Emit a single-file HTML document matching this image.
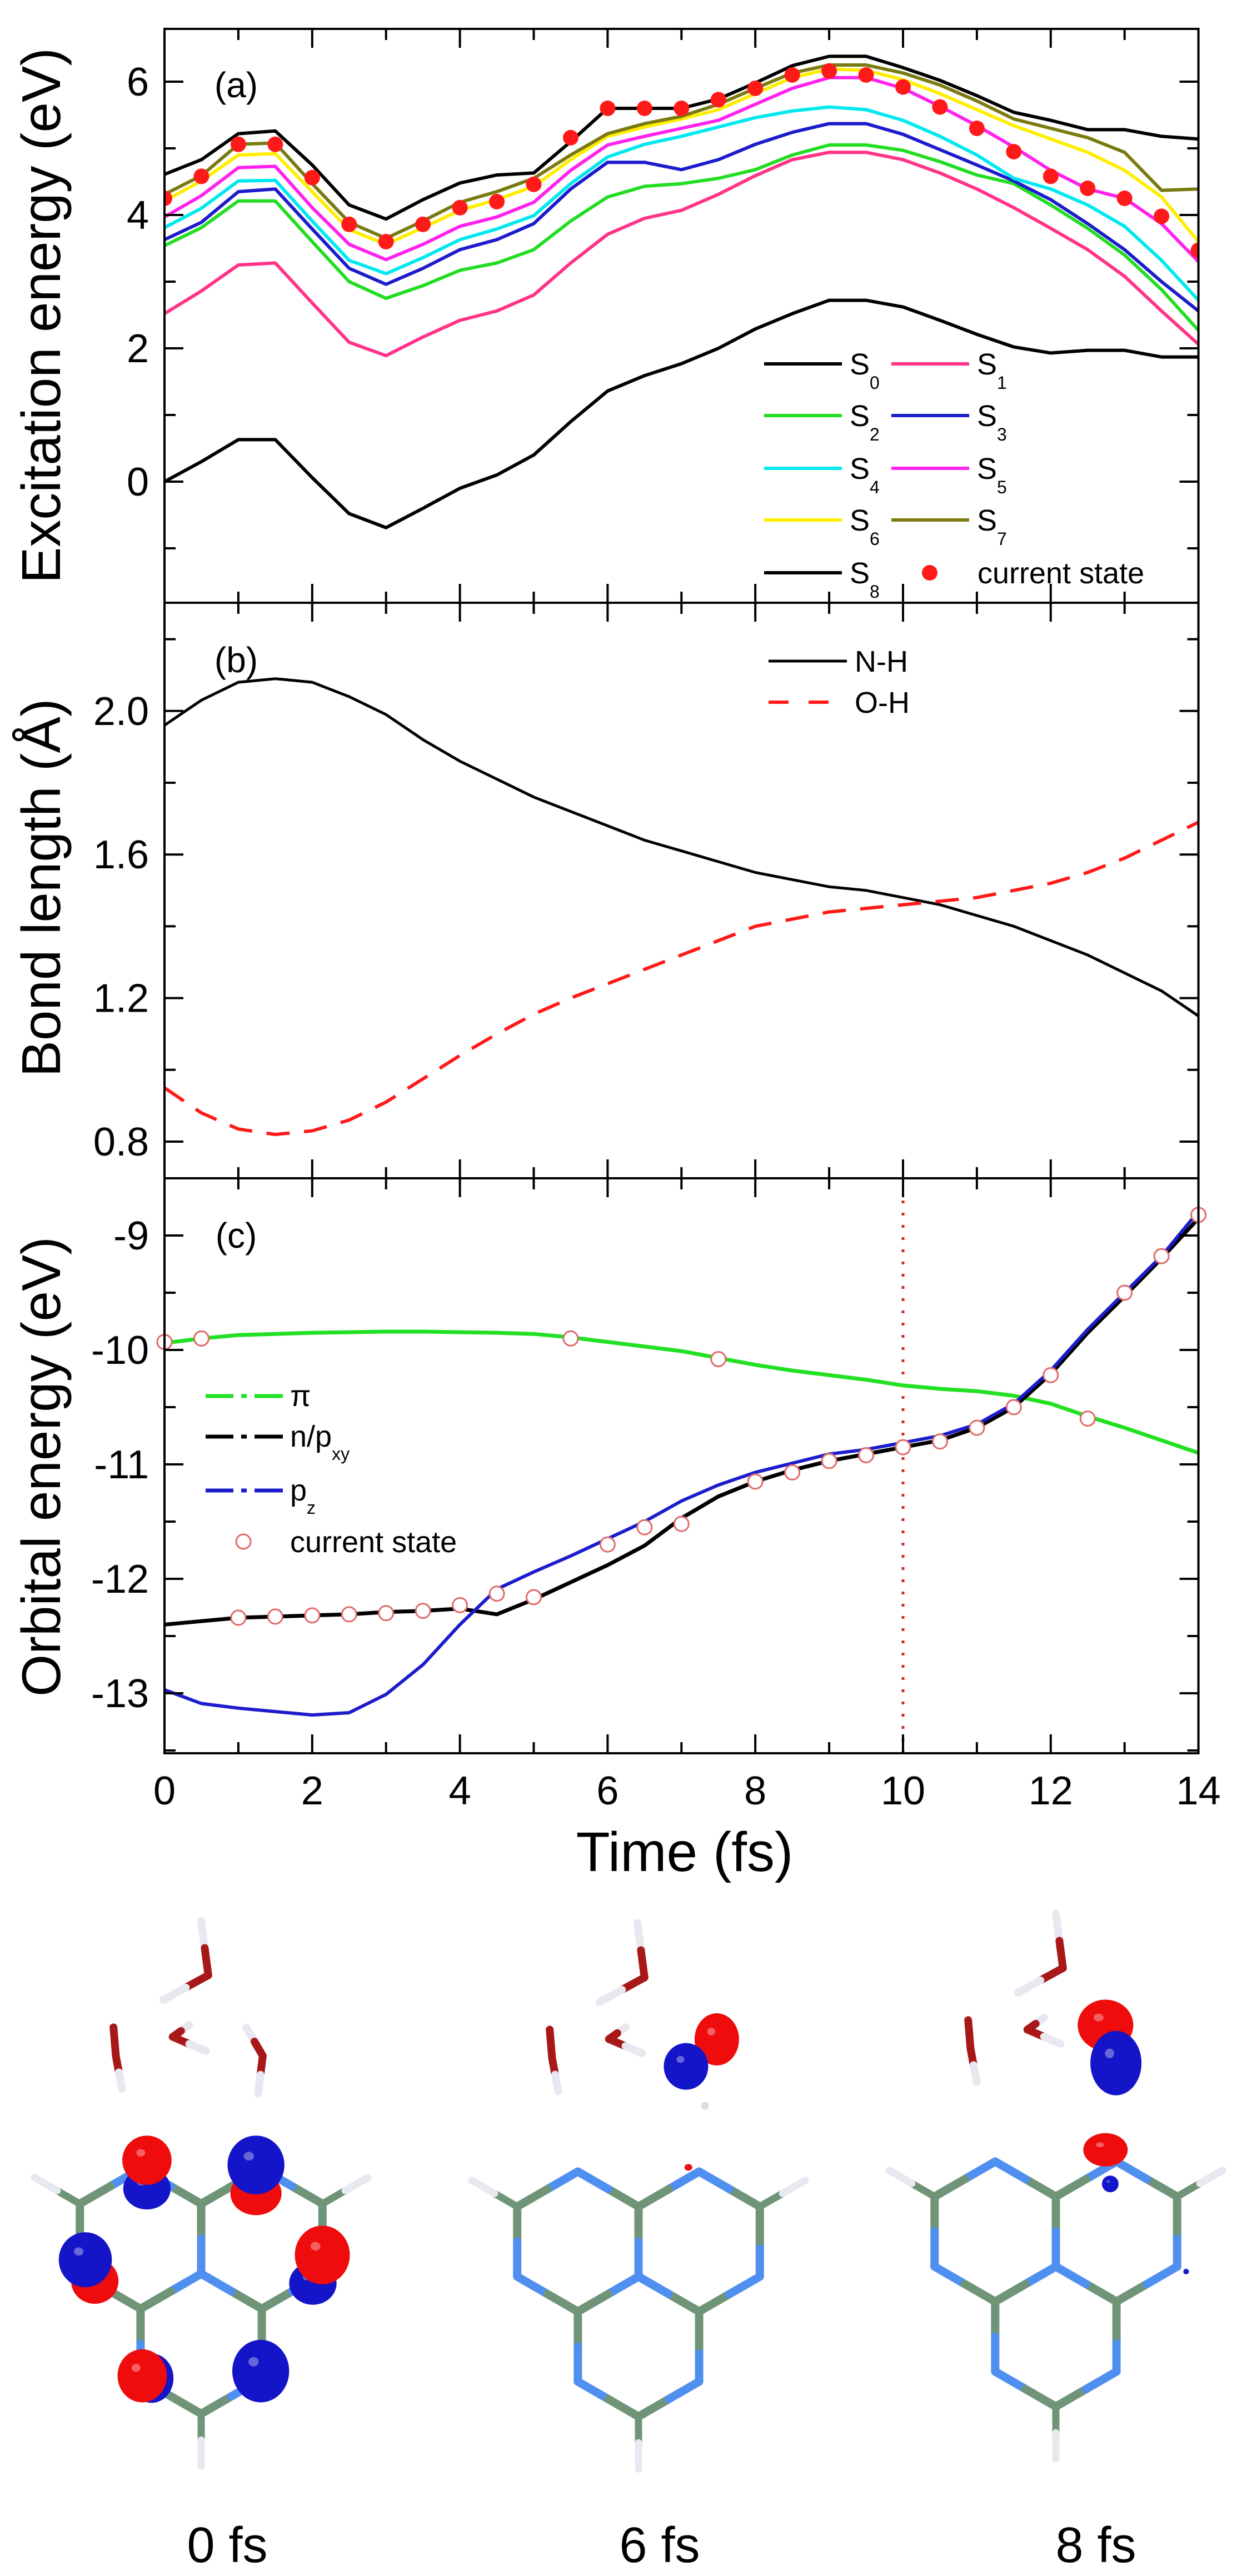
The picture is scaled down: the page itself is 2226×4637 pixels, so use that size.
<!DOCTYPE html>
<html><head><meta charset="utf-8"><style>
html,body{margin:0;padding:0;background:#fff;}
svg{display:block;font-family:"Liberation Sans",Arial,sans-serif;}
</style></head><body>
<svg id="fig" xmlns="http://www.w3.org/2000/svg" width="2226" height="4637" viewBox="0 0 2226 4637">
<rect x="0" y="0" width="2226" height="4637" fill="#fff"/>
<g id="plots"></g>
<g id="mols"></g>
</svg>
<script>
const times = [0,0.5,1,1.5,2,2.5,3,3.5,4,4.5,5,5.5,6,6.5,7,7.5,8,8.5,9,9.5,10,10.5,11,11.5,12,12.5,13,13.5,14];
const S0 = [0,0.3,0.63,0.63,0.06,-0.48,-0.69,-0.4,-0.1,0.1,0.4,0.9,1.36,1.59,1.77,2.0,2.29,2.52,2.72,2.72,2.62,2.42,2.21,2.02,1.93,1.97,1.97,1.87,1.87];
const S1 = [2.52,2.86,3.25,3.28,2.68,2.09,1.89,2.17,2.42,2.56,2.8,3.28,3.71,3.95,4.07,4.31,4.59,4.83,4.94,4.94,4.83,4.63,4.39,4.11,3.8,3.48,3.08,2.56,2.06];
const S2 = [3.54,3.81,4.21,4.21,3.6,3.0,2.75,2.94,3.17,3.28,3.48,3.91,4.27,4.43,4.47,4.55,4.68,4.9,5.05,5.05,4.97,4.8,4.6,4.47,4.15,3.8,3.4,2.88,2.27];
const S3 = [3.63,3.89,4.35,4.39,3.79,3.2,2.96,3.2,3.48,3.63,3.87,4.39,4.79,4.79,4.68,4.83,5.06,5.24,5.37,5.37,5.21,4.98,4.75,4.51,4.23,3.87,3.48,3.0,2.56];
const S4 = [3.81,4.1,4.51,4.52,3.91,3.32,3.12,3.36,3.63,3.79,3.99,4.47,4.87,5.06,5.18,5.32,5.46,5.56,5.62,5.58,5.42,5.18,4.9,4.55,4.39,4.15,3.83,3.32,2.72];
const S5 = [3.97,4.29,4.71,4.73,4.11,3.56,3.33,3.56,3.83,3.97,4.19,4.67,5.05,5.18,5.3,5.42,5.66,5.9,6.06,6.06,5.9,5.63,5.34,5.02,4.67,4.39,4.25,3.87,3.3];
const S6 = [4.21,4.51,4.9,4.92,4.35,3.78,3.56,3.81,4.07,4.23,4.43,4.83,5.18,5.32,5.44,5.58,5.82,6.06,6.19,6.17,6.03,5.82,5.58,5.34,5.14,4.94,4.67,4.27,3.6];
const S7 = [4.31,4.59,5.06,5.08,4.47,3.89,3.65,3.91,4.19,4.35,4.55,4.9,5.22,5.37,5.48,5.66,5.9,6.13,6.25,6.25,6.13,5.95,5.71,5.44,5.3,5.16,4.94,4.37,4.39];
const S8 = [4.61,4.83,5.22,5.26,4.75,4.15,3.94,4.23,4.48,4.6,4.63,5.1,5.6,5.6,5.6,5.74,5.98,6.24,6.38,6.38,6.21,6.02,5.79,5.54,5.42,5.28,5.28,5.18,5.14];
const curA = [4.25,4.58,5.06,5.06,4.56,3.86,3.6,3.86,4.11,4.2,4.46,5.16,5.6,5.6,5.6,5.73,5.9,6.1,6.16,6.1,5.92,5.62,5.3,4.95,4.58,4.4,4.25,3.98,3.47];
const NH = [1.96,2.03,2.08,2.09,2.08,2.04,1.99,1.92,1.86,1.81,1.76,1.72,1.68,1.64,1.61,1.58,1.55,1.53,1.51,1.50,1.48,1.46,1.43,1.40,1.36,1.32,1.27,1.22,1.15];
const OH = [0.95,0.88,0.835,0.82,0.83,0.86,0.91,0.975,1.04,1.1,1.155,1.2,1.24,1.28,1.32,1.36,1.40,1.42,1.44,1.45,1.46,1.47,1.48,1.5,1.52,1.55,1.59,1.64,1.69];
const PI = [-9.94,-9.9,-9.87,-9.86,-9.85,-9.845,-9.84,-9.84,-9.845,-9.85,-9.86,-9.89,-9.93,-9.97,-10.01,-10.07,-10.13,-10.18,-10.22,-10.26,-10.31,-10.34,-10.36,-10.4,-10.47,-10.58,-10.68,-10.79,-10.9];
const NPXY = [-12.4,-12.37,-12.34,-12.33,-12.32,-12.31,-12.29,-12.28,-12.26,-12.31,-12.18,-12.03,-11.88,-11.71,-11.47,-11.28,-11.15,-11.05,-10.97,-10.91,-10.85,-10.79,-10.68,-10.5,-10.21,-9.85,-9.53,-9.2,-8.85];
const PZ = [-12.97,-13.09,-13.13,-13.16,-13.19,-13.17,-13.01,-12.75,-12.4,-12.09,-11.94,-11.8,-11.65,-11.5,-11.32,-11.18,-11.07,-10.99,-10.91,-10.87,-10.81,-10.75,-10.65,-10.47,-10.18,-9.82,-9.5,-9.18,-8.79];
const curC = [-9.93,-9.9,-12.34,-12.33,-12.32,-12.31,-12.3,-12.28,-12.23,-12.13,-12.16,-9.9,-11.7,-11.55,-11.52,-10.08,-11.15,-11.07,-10.97,-10.92,-10.85,-10.8,-10.68,-10.5,-10.22,-10.6,-9.5,-9.18,-8.82];
const xTicks = [0,2,4,6,8,10,12,14];
const aTicks = [6,4,2,0];
const bTickLabels = ["2.0","1.6","1.2","0.8"];
const bTicks = [2.0,1.6,1.2,0.8];
const cTicks = [-9,-10,-11,-12,-13];

const NS="http://www.w3.org/2000/svg";
const root=document.getElementById('plots');
function mk(tag,attrs,parent){const e=document.createElementNS(NS,tag);for(const k in attrs)e.setAttribute(k,attrs[k]);(parent||root).appendChild(e);return e;}
const X=t=>296+132.9*t;
const XL=296, XR=X(14);
const A={top:52,bot:1085,y:v=>867-120*v};
const B={top:1085,bot:2121,y:v=>2055-(v-0.8)*646};
const C={top:2121,bot:3156,y:v=>2224+(-9-v)*206};

function pathD(xs,ys,fy){return xs.map((t,i)=>(i?'L':'M')+X(t).toFixed(1)+' '+fy(ys[i]).toFixed(1)).join(' ');}

const defs=mk('defs',{});
[['ca',A],['cb',B],['cc',C]].forEach(([id,P])=>{const cp=mk('clipPath',{id:id},defs);mk('rect',{x:XL,y:P.top,width:XR-XL,height:P.bot-P.top},cp);});

// ---- panel a ----
const ga=mk('g',{'clip-path':'url(#ca)'});


const seriesA=[[S0,'#000','s0'],[S1,'#ff3388','s1'],[S2,'#22dd22','s2'],[S3,'#1c1ccc','s3'],[S4,'#00e8f0','s4'],[S5,'#ff22ee','s5'],[S6,'#ffee00','s6'],[S7,'#7a7a10','s7'],[S8,'#000','s8']];
seriesA.forEach(([d,c,n])=>{const p=mk('path',{d:pathD(times,d,A.y),fill:'none',stroke:c,'stroke-width':6,'stroke-linejoin':'round'},ga);

});
curA.forEach((v,i)=>{const c=mk('circle',{cx:X(times[i]),cy:A.y(v),r:14,fill:'#ff1a1a'},ga);

});

// ---- panel b ----
const gb=mk('g',{'clip-path':'url(#cb)'});


const pNH=mk('path',{d:pathD(times,NH,B.y),fill:'none',stroke:'#000','stroke-width':5},gb);


const pOH=mk('path',{d:pathD(times,OH,B.y),fill:'none',stroke:'#ff1a1a','stroke-width':6,'stroke-dasharray':'42 26'},gb);



// ---- panel c ----
const gc=mk('g',{'clip-path':'url(#cc)'});


const vl=mk('line',{x1:X(10),x2:X(10),y1:C.top+40,y2:C.bot,stroke:'#cc2a2a','stroke-width':5,'stroke-dasharray':'5 17'},gc);


const pPI=mk('path',{d:pathD(times,PI,C.y),fill:'none',stroke:'#22e022','stroke-width':7},gc);


const pN=mk('path',{d:pathD(times,NPXY,C.y),fill:'none',stroke:'#000','stroke-width':7},gc);


const pZ=mk('path',{d:pathD(times,PZ,C.y),fill:'none',stroke:'#1c1ccc','stroke-width':6},gc);


curC.forEach((v,i)=>{const c=mk('circle',{cx:X(times[i]),cy:C.y(v),r:13,fill:'#fff',stroke:'#e06a6a','stroke-width':3});

});

// ---- axes ----
const ax=mk('g',{stroke:'#000','stroke-width':4,fill:'none'});


mk('rect',{x:XL,y:A.top,width:XR-XL,height:C.bot-A.top},ax);
mk('line',{x1:XL,x2:XR,y1:B.top,y2:B.top},ax);
mk('line',{x1:XL,x2:XR,y1:C.top,y2:C.top},ax);
[A,B,C].forEach(P=>{
  for(let t=1;t<14;t++){const L=(t%2===0)?34:20;
    mk('line',{x1:X(t),x2:X(t),y1:P.top,y2:P.top+L},ax);
    mk('line',{x1:X(t),x2:X(t),y1:P.bot,y2:P.bot-L},ax);}
});
function yticks(P,vals,minor){vals.forEach(v=>{const y=P.y(v);mk('line',{x1:XL,x2:XL+34,y1:y,y2:y},ax);mk('line',{x1:XR,x2:XR-34,y1:y,y2:y},ax);});
minor.forEach(v=>{const y=P.y(v);mk('line',{x1:XL,x2:XL+20,y1:y,y2:y},ax);mk('line',{x1:XR,x2:XR-20,y1:y,y2:y},ax);});}
yticks(A,[6,4,2,0],[5,3,1,-1]);
yticks(B,[2.0,1.6,1.2,0.8],[2.2,1.8,1.4,1.0]);
yticks(C,[-9,-10,-11,-12,-13],[-9.5,-10.5,-11.5,-12.5,-13.5]);

function txt(s,x,y,size,anchor,name,extra){const e=mk('text',Object.assign({x:x,y:y,'font-size':size,'text-anchor':anchor||'start',fill:'#000'},extra||{}));e.textContent=s;

return e;}
aTicks.forEach(v=>txt(String(v),268,A.y(v)+25,72,'end','y-tick-label-a'));
bTicks.forEach((v,i)=>txt(bTickLabels[i],268,B.y(v)+25,72,'end','y-tick-label-b'));
cTicks.forEach(v=>txt(String(v),268,C.y(v)+25,72,'end','y-tick-label-c'));
xTicks.forEach(t=>txt(String(t),X(t),3248,72,'middle','x-tick-label'));
txt('Time (fs)',1232,3368,100,'middle','x-axis-title');
txt('Excitation energy (eV)',0,0,98,'middle','y-axis-title-a',{transform:'translate(108,568) rotate(-90)'});
txt('Bond length (Å)',0,0,98,'middle','y-axis-title-b',{transform:'translate(108,1598) rotate(-90)'});
txt('Orbital energy (eV)',0,0,98,'middle','y-axis-title-c',{transform:'translate(108,2640) rotate(-90)'});
txt('(a)',425,175,64,'middle','panel-label-a');
txt('(b)',425,1210,64,'middle','panel-label-b');
txt('(c)',425,2246,64,'middle','panel-label-c');

const legA=[['S','0','#000',1375,655],['S','1','#ff3388',1604,655],['S','2','#22dd22',1375,748],['S','3','#1c1ccc',1604,748],['S','4','#00e8f0',1375,843],['S','5','#ff22ee',1604,843],['S','6','#ffee00',1375,936],['S','7','#7a7a10',1604,936],['S','8','#000',1375,1031]];
legA.forEach(([s,sub,c,x,y])=>{const l=mk('line',{x1:x,x2:x+140,y1:y,y2:y,stroke:c,'stroke-width':6});


const t=txt(s,x+154,y+19,54,'start','legend-label-s'+sub);
const ts=mk('tspan',{'font-size':32,dy:26},t);ts.textContent=sub;});
const ld=mk('circle',{cx:1673,cy:1031,r:14,fill:'#ff1a1a'});


txt('current state',1759,1050,54,'start','legend-label-current-state');
const lb1=mk('line',{x1:1383,x2:1524,y1:1190,y2:1190,stroke:'#000','stroke-width':5});


txt('N-H',1538,1209,54,'start','legend-label-n-h');
const lb2=mk('line',{x1:1383,x2:1524,y1:1264,y2:1264,stroke:'#ff1a1a','stroke-width':6,'stroke-dasharray':'36 36'});


txt('O-H',1538,1283,54,'start','legend-label-o-h');
[['#22e022',2513,'π'],['#000',2586,'n/p'],['#1c1ccc',2683,'p']].forEach(([c,y,s],i)=>{
  const l=mk('line',{x1:370,x2:509,y1:y,y2:y,stroke:c,'stroke-width':7,'stroke-dasharray':'50 14 10 14 60'});
  
  
  const t=txt(s,522,y+18,54,'start','legend-label-c'+i);
  if(i===1){const ts=mk('tspan',{'font-size':32,dy:24},t);ts.textContent='xy';}
  if(i===2){const ts=mk('tspan',{'font-size':32,dy:24},t);ts.textContent='z';}
});
const lc=mk('circle',{cx:438,cy:2775,r:13,fill:'#fff',stroke:'#e06a6a','stroke-width':3});


txt('current state',522,2794,54,'start','legend-label-current-state-c');

// ---- molecules ----
const mol=document.getElementById('mols');
function bond(g,x1,y1,x2,y2,c1,c2,w){const mx=(x1+x2)/2,my=(y1+y2)/2;
mk('line',{x1:x1,y1:y1,x2:mx,y2:my,stroke:c1,'stroke-width':w,'stroke-linecap':'round'},g);
mk('line',{x1:mx,y1:my,x2:x2,y2:y2,stroke:c2,'stroke-width':w,'stroke-linecap':'round'},g);}
const CC='#6f9478',NC='#4f8ff0',HC='#e8e8f0',OC='#a81818';
function drawMol(cx,cy,name){
  const g=mk('g',{},mol);
  
  
  const L=126;
  const P=(ang,r,ox,oy)=>[ox+r*Math.cos(ang*Math.PI/180),oy-r*Math.sin(ang*Math.PI/180)];
  [150,30,270].forEach((ha)=>{
    const [hx,hy]=P(ha,L,cx,cy);
    const vs=[];for(let k=0;k<6;k++){vs.push(P(30+60*k,L,hx,hy));}
    const types=vs.map(v=>{const d=Math.hypot(v[0]-cx,v[1]-cy);if(d<5)return 'N';if(Math.abs(d-L)<5)return 'C';return null;});
    vs.forEach((v,k)=>{if(types[k]===null){const ang=30+60*k;const diff=Math.abs(((ang-ha+540)%360)-180);types[k]=(diff<5)?'CH':'N';}});
    for(let k=0;k<6;k++){const a=vs[k],b=vs[(k+1)%6];const ta=types[k],tb=types[(k+1)%6];
      bond(g,a[0],a[1],b[0],b[1],ta==='N'?NC:CC,tb==='N'?NC:CC,15);}
    vs.forEach((v,k)=>{if(types[k]==='CH'){const [ex,ey]=P(ha,L*0.75,v[0],v[1]);bond(g,v[0],v[1],ex,ey,CC,HC,13);}});
  });
  return g;
}
function water(g,pts){for(let i=0;i<pts.length-1;i++){const [x1,y1,c1]=pts[i],[x2,y2,c2]=pts[i+1];bond(g,x1,y1,x2,y2,c1,c2,14);}}
function waters(cx,cy,name,skipRight){
  const g=mk('g',{},mol);
  
  
  const s=0.853;const ox=cx-425*s,oy=cy-930*s;const T=(x,y,c)=>[ox+x*s,oy+y*s,c];
  water(g,[T(425,185,HC),T(440,300,OC),T(345,352,HC)]);
  water(g,[T(240,410,OC),T(245,470,OC),T(258,540,HC)]);
  water(g,[T(400,405,HC),T(365,430,OC),T(435,460,HC)]);
  if(!skipRight) water(g,[T(520,410,HC),T(555,470,OC),T(545,550,HC)]);
}
function blob(cx,cy,rx,ry,col,name){const g=mk('g',{},mol);


mk('ellipse',{cx:cx,cy:cy,rx:rx,ry:ry,fill:col},g);
mk('ellipse',{cx:cx-rx*0.25,cy:cy-ry*0.3,rx:rx*0.18,ry:ry*0.15,fill:'#fff',opacity:0.35},g);}
const R='#ee0c0c',Bl='#1414c8';
waters(362,4093,'waters-0fs',false);
drawMol(362,4093,'molecule-0fs');
const s=0.853,oy=3300;
const Z=(x,y)=>[x*s,oy+y*s];
[[310,750,50,44,Bl],[310,690,52,52,R],[540,760,54,46,R],[540,700,60,62,Bl],[200,945,50,48,R],[180,900,56,58,Bl],[660,950,50,45,Bl],[680,890,58,62,R],[320,1150,46,52,Bl],[300,1145,52,56,R],[550,1135,60,66,Bl]].forEach(([x,y,rx,ry,c])=>{const [px,py]=Z(x,y);blob(px,py,rx*s,ry*s,c,'orbital-lobe-0fs');});
waters(1147,4097,'waters-6fs',true);
drawMol(1149,4098,'molecule-6fs');
const Z7=(x,y)=>[889+x*s,oy+y*s];
{let [x,y]=Z7(470,435);blob(x,y,40,47,R,'orbital-lobe-6fs');[x,y]=Z7(405,492);blob(x,y,40,42,Bl,'orbital-lobe-6fs');
[x,y]=Z7(410,705);blob(x,y,7,6,R,'orbital-dot-6fs');[x,y]=Z7(445,575);blob(x,y,7,7,'#ddd','h-atom-6fs');}
waters(1900,4080,'waters-8fs',true);
drawMol(1900,4080,'molecule-8fs');
{let [x,y]=Z7(1290,405);blob(x,y,50,46,R,'orbital-lobe-8fs');[x,y]=Z7(1312,485);blob(x,y,46,58,Bl,'orbital-lobe-8fs');
[x,y]=Z7(1290,668);blob(x,y,40,30,R,'orbital-lobe-8fs');[x,y]=Z7(1300,740);blob(x,y,15,15,Bl,'orbital-lobe-8fs');[x,y]=Z7(1460,925);blob(x,y,5,5,Bl,'orbital-dot-8fs');}
function label(s,x,name){const e=mk('text',{x:x,y:4612,'font-size':90,'text-anchor':'middle',fill:'#000'},mol);e.textContent=s;

}
label('0 fs',409,'label-0fs');label('6 fs',1187,'label-6fs');label('8 fs',1972,'label-8fs');
</script>
</body></html>
